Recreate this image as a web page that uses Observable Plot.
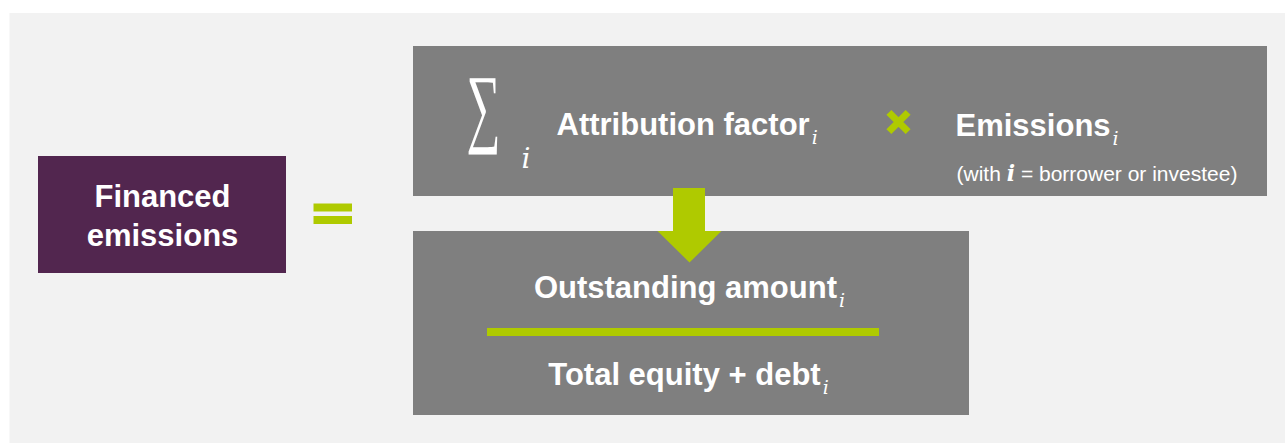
<!DOCTYPE html>
<html>
<head>
<meta charset="utf-8">
<script src="https://cdn.jsdelivr.net/npm/d3@7"></script>
<script src="https://cdn.jsdelivr.net/npm/@observablehq/plot@0.6"></script>
<style>
  html, body { margin: 0; padding: 0; background: #ffffff; overflow: hidden; }
  #chart svg { display: block; }
</style>
</head>
<body>
<div id="chart"></div>
<script>
// ---------- content ----------
const resultLabel = ["Financed", "emissions"];
const productTerms = ["Attribution factor", "Emissions"];
const ratioTerms = ["Outstanding amount", "Total equity + debt"];
const indexSymbol = "i";
const indexNote = ["(with ", "i", " = borrower or investee)"];
const sumSymbol = "\u2211";

// ---------- layout (canvas pixels) ----------
const W = 1285, H = 445;
const colors = { panel: "#f2f2f2", purple: "#52264f", grey: "#7f7f7f", green: "#afca00", text: "#ffffff" };

const panelLayout = [{ x1: 9.5, x2: 1285, y1: 13, y2: 443 }];
const resultLayout = [{ x1: 38, x2: 286, y1: 156, y2: 273 }];
const greyLayout = [
  { x1: 413, x2: 1267, y1: 46, y2: 196 },
  { x1: 413, x2: 969, y1: 231, y2: 415 }
];
const greenLayout = [
  { x1: 313.5, x2: 352, y1: 203.5, y2: 211.5 },   // equals, upper bar
  { x1: 313.5, x2: 352, y1: 216, y2: 224 },       // equals, lower bar
  { x1: 487, x2: 879, y1: 328, y2: 336 },         // fraction bar
  { x1: 673, x2: 705, y1: 188, y2: 231 }          // arrow stem
];
const arrowHead = [
  { x: 657, y: 230.5 }, { x: 721, y: 230.5 }, { x: 689, y: 262 }
];
const timesLayout = [{ x: 898, y: 121.5 }];

const textLayout = [
  { text: resultLabel.join("\n"), x: 162, y: 245, size: 31, anchor: "middle", weight: "bold" },
  { text: productTerms[0], x: 556, y: 134, size: 31, anchor: "start", weight: "bold" },
  { text: productTerms[1], x: 955, y: 135, size: 31, anchor: "start", weight: "bold" },
  { text: indexNote.join(""), x: 956, y: 180, size: 21, anchor: "start", weight: "normal" },
  { text: ratioTerms[0], x: 689, y: 297, size: 31, anchor: "middle", weight: "bold" },
  { text: ratioTerms[1], x: 688, y: 384, size: 31, anchor: "middle", weight: "bold" }
];
const sigmaLayout = [{ text: sumSymbol, x: 466, y: 135, size: 48 }];
const sigmaIndexLayout = [{ text: indexSymbol, x: 521, y: 167, size: 28 }];

const rectOpts = { x1: "x1", x2: "x2", y1: "y1", y2: "y2" };

const chart = Plot.plot({
  width: W,
  height: H,
  margin: 0,
  x: { domain: [0, W], range: [0, W], axis: null },
  y: { domain: [0, H], range: [0, H], axis: null },
  style: { background: "#ffffff", fontFamily: "'Liberation Sans', Arial, sans-serif" },
  marks: [
    Plot.rect(panelLayout, { ...rectOpts, fill: colors.panel }),
    Plot.rect(resultLayout, { ...rectOpts, fill: colors.purple }),
    Plot.rect(greyLayout, { ...rectOpts, fill: colors.grey }),
    Plot.rect(greenLayout, { ...rectOpts, fill: colors.green }),
    Plot.line(arrowHead, { x: "x", y: "y", fill: colors.green, stroke: "none" }),
    Plot.dot(timesLayout, { x: "x", y: "y", symbol: "times", r: 8.8, stroke: colors.green, strokeWidth: 7 }),
    ...textLayout.map(t => Plot.text([t], {
      x: "x", y: "y", text: "text",
      fontSize: t.size, fontWeight: t.weight, textAnchor: t.anchor,
      lineAnchor: "bottom", lineHeight: 1.23, fill: colors.text
    })),
    Plot.text(sigmaLayout, {
      x: "x", y: "y", text: "text", fontSize: d => d.size, textAnchor: "start",
      lineAnchor: "bottom", fill: colors.text, fontFamily: "'Liberation Serif', 'DejaVu Serif', serif"
    }),
    Plot.text(sigmaIndexLayout, {
      x: "x", y: "y", text: "text", fontSize: 28, textAnchor: "start",
      lineAnchor: "bottom", fill: colors.text, fontStyle: "italic",
      fontFamily: "'DejaVu Serif', 'Liberation Serif', serif"
    })
  ]
});

// subscripts, the italic index in the note, and the tall summation sign
const svg = d3.select(chart);
const subscripted = [...productTerms, ...ratioTerms];
svg.selectAll("text").each(function () {
  const el = d3.select(this);
  const t = this.textContent;
  if (subscripted.includes(t)) {
    el.append("tspan")
      .attr("dx", 2).attr("dy", 9)
      .attr("font-family", "'DejaVu Serif', serif")
      .attr("font-style", "italic")
      .attr("font-weight", "normal")
      .attr("font-size", 19)
      .text(indexSymbol);
  } else if (t === indexNote.join("")) {
    this.textContent = "";
    el.append("tspan").text(indexNote[0]);
    el.append("tspan")
      .attr("font-family", "'DejaVu Serif', serif")
      .attr("font-style", "italic")
      .attr("font-weight", "bold")
      .attr("font-size", 22)
      .text(indexNote[1]);
    el.append("tspan").text(indexNote[2]);
  } else if (t === sumSymbol) {
    const tr = el.attr("transform") || "";
    el.attr("transform", tr + " scale(1,1.83)")
      .attr("textLength", 34)
      .attr("lengthAdjust", "spacingAndGlyphs");
  }
});

document.getElementById("chart").appendChild(chart);
</script>
</body>
</html>
